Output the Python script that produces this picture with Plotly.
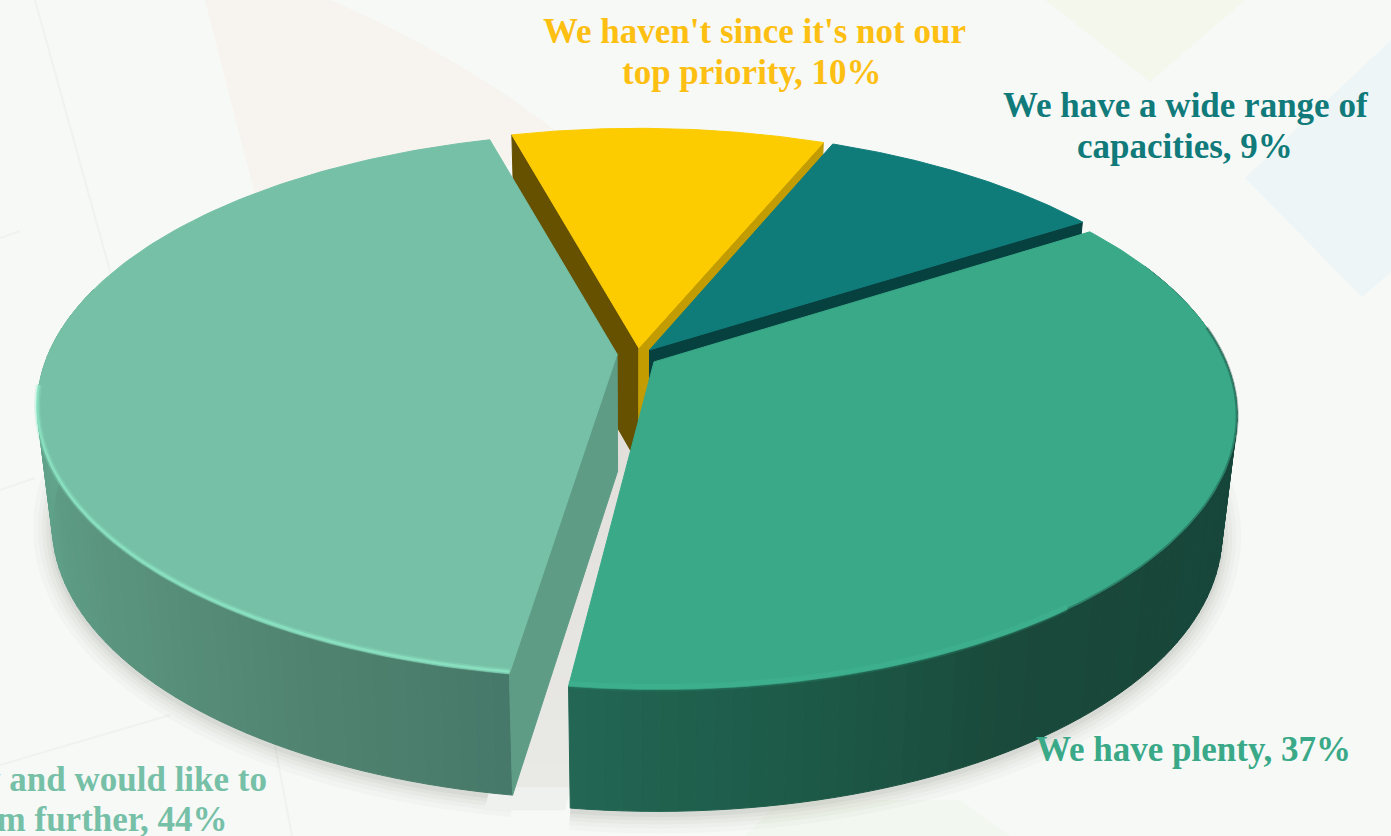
import numpy as np
import plotly.graph_objects as go

# Survey shares, clockwise from the top of the pie
categories = [
    "We haven't since it's not our top priority",
    "We have a wide range of capacities",
    "We have plenty",
    "We have capacity and would like to explore them further",
]
values = [10, 9, 37, 44]
top_colors = ["#fccc00", "#0f7c7a", "#3aa988", "#76c0a7"]
label_colors = ["#fdbf12", "#107b7a", "#3aa988", "#76c0a7"]

# View of the tilted disc
CX, CY = 637, 357
WIDTH, TILT = 570, 264
PERSPECTIVE = 0.188
THICKNESS = 117
EXPLODE = 0.035
FIRST_ANGLE = -13
PAGE = "#f7f9f7"


def project(x, y, depth=0.0):
    """Map disc coordinates (unit radius, y towards the back) to the page."""
    s = 1 / (1 + PERSPECTIVE * y)
    shrink = 1 - 0.025 * depth
    return (
        CX + x * WIDTH * s * shrink,
        CY - y * TILT * s * shrink + depth * THICKNESS * np.sqrt(s),
    )


def rim(theta_deg, offset, depth=0.0):
    t = np.radians(theta_deg)
    return project(np.sin(t) + offset[0], np.cos(t) + offset[1], depth)


def view_warp(theta):
    """Small angular correction of the foreshortened view."""
    return theta + np.interp(theta, [-15, 23, 55, 188, 347],
                             [-2.4, -0.5, 2.0, -1.3, -2.7])


def blend(stops, t):
    pos = [p for p, _ in stops]
    channels = [[int(c[i:i + 2], 16) for i in (1, 3, 5)] for _, c in stops]
    rgb = [np.interp(t, pos, [c[i] for c in channels]) for i in range(3)]
    return "rgb({:.0f},{:.0f},{:.0f})".format(*rgb)


fig = go.Figure()


def poly(xs, ys, color):
    fig.add_trace(go.Scatter(
        x=list(xs), y=list(ys), mode="lines", fill="toself", fillcolor=color,
        line=dict(color=color, width=1), hoverinfo="skip", showlegend=False,
    ))


def stroke(xs, ys, color, width):
    fig.add_trace(go.Scatter(
        x=list(xs), y=list(ys), mode="lines",
        line=dict(color=color, width=width, simplify=False),
        hoverinfo="skip", showlegend=False,
    ))


def outer_wall(a0, a1, offset, stops):
    """Curved side of a slice, shaded in narrow strips along the arc."""
    edges = np.arange(a0, a1 + 1.5, 1.5)
    edges[-1] = a1
    for p, q in zip(edges[:-1], edges[1:]):
        xt0, yt0 = rim(p, offset)
        xt1, yt1 = rim(q, offset)
        xb0, yb0 = rim(p, offset, 1)
        xb1, yb1 = rim(q, offset, 1)
        poly([xt0, xt1, xb1, xb0, xt0], [yt0, yt1, yb1, yb0, yt0],
             blend(stops, (p + q) / 2))


def cut_face(theta, offset, color):
    """Flat radial face of a slice, from the apex out to the rim."""
    ax, ay = project(*offset)
    bx, by = project(*offset, 1)
    tx, ty = rim(theta, offset)
    ux, uy = rim(theta, offset, 1)
    poly([ax, tx, ux, bx, ax], [ay, ty, uy, by, ay], color)


def top_face(a0, a1, offset, color):
    arc = np.linspace(a0, a1, 160)
    ax, ay = project(*offset)
    rx, ry = rim(arc, offset)
    poly(np.r_[ax, rx, ax], np.r_[ay, ry, ay], color)


# Slice sweep angles follow from the shares
sweeps = np.array(values) / sum(values) * 360
starts = FIRST_ANGLE + np.r_[0, np.cumsum(sweeps)[:-1]]
ends = starts + sweeps
offsets = []
for a, b in zip(starts, ends):
    mid = np.radians((a + b) / 2)
    offsets.append((EXPLODE * np.sin(mid), EXPLODE * np.cos(mid)))
starts, ends = view_warp(starts), view_warp(ends)
(ya0, ya1), (te0, te1) = (starts[0], ends[0]), (starts[1], ends[1])
(gr0, gr1), (li0, li1) = (starts[2], ends[2]), (starts[3], ends[3])
li0 += 1.2  # the pale slice's front edge sits a little further round
o_ya, o_te, o_gr = offsets[:3]
o_li = (offsets[3][0], offsets[3][1] + 0.012)

# Soft ground shadow under the two large slices
arc_g = np.linspace(gr0 + 20, gr1, 120)
arc_l = np.linspace(li0, li0 + 100, 120)
for w, a in [(38, 0.03), (28, 0.035), (20, 0.045), (12, 0.055), (5, 0.07)]:
    col = f"rgba(105,105,98,{a})"
    for arc, off in ((arc_g, o_gr), (arc_l, o_li)):
        sx, sy = rim(arc, off, 1)
        stroke(sx, np.asarray(sy) + 3, col, w)

# Shaded floor showing through the gap between the large slices
apx, apy = project(0, 0, 1)
tipx, tipy = rim(188, (0, 0), 1)
floor_y = np.linspace(apy - 45, tipy + 10, 18)
floor_stops = [(0, "#e2dfda"), (0.75, "#e7e7e4"), (0.92, "#e9e9e6"), (1, "#f3f5f2")]
for y0, y1 in zip(floor_y[:-1], floor_y[1:]):
    f0 = (y0 - floor_y[0]) / (floor_y[-1] - floor_y[0])
    f1 = (y1 - floor_y[0]) / (floor_y[-1] - floor_y[0])
    x0 = apx + (tipx - apx) * (y0 - floor_y[0]) / (tipy - floor_y[0])
    x1 = apx + (tipx - apx) * (y1 - floor_y[0]) / (tipy - floor_y[0])
    poly([x0 - 55, x0 + 25, x1 + 25, x1 - 55], [y0, y0, y1, y1],
         blend(floor_stops, (f0 + f1) / 2))

# Yellow and teal slices sit at the back
cut_face(ya0, o_ya, "#655100")
cut_face(ya1, o_ya, "#c29c00")
top_face(ya0, ya1, o_ya, top_colors[0])
cut_face(te1, o_te, "#06403f")
top_face(te0, te1, o_te, top_colors[1])

# Large green slice
green_stops = [(gr0, "#17463a"), (120, "#17463a"), (150, "#1a4a3b"),
               (168, "#1d5a48"), (gr1, "#226653")]
outer_wall(gr0 + 10, gr1, o_gr, green_stops)
top_face(gr0, gr1, o_gr, top_colors[2])
fx, fy = rim(np.linspace(gr0 + 25, gr0 + 85, 100), o_gr)
stroke(fx, fy, "rgba(23,70,58,0.4)", 3)
fx, fy = rim(np.linspace(gr0 + 85, gr1, 120), o_gr)
stroke(fx, np.asarray(fy) + 1, "rgba(38,120,96,0.45)", 2)
stroke(fx, np.asarray(fy) - 3, "rgba(70,190,150,0.3)", 5)

# Pale green slice sits in front on the left
pale_stops = [(li0, "#47796a"), (205, "#4f836f"), (225, "#58907b"),
              (250, "#5f9e87"), (275, "#62a78f"), (li1, "#62a78f")]
outer_wall(li0, 285, o_li, pale_stops)
cut_face(li0, o_li, "#5e9c86")
top_face(li0, li1, o_li, top_colors[3])
hx, hy = rim(np.linspace(li0, 263, 140), o_li)
stroke(hx, np.asarray(hy) - 2, "rgba(143,232,200,0.3)", 6)
stroke(hx, np.asarray(hy) - 2, "rgba(143,232,200,0.7)", 2.5)

# Slice labels, coloured like their slices, one annotation per line
FONT = "Liberation Serif"
notes = [
    (754, 31, "We haven't since it's not our", "center", label_colors[0]),
    (752, 72, "top priority, 10%", "center", label_colors[0]),
    (1185, 105, "We have a wide range of", "center", label_colors[1]),
    (1185, 146, "capacities, 9%", "center", label_colors[1]),
    (1193, 749, "We have plenty, 37%", "center", label_colors[2]),
    (269, 779, "We have capacity and would like to", "right", label_colors[3]),
    (230, 819, "explore them further, 44%", "right", label_colors[3]),
]
for x, y, text, anchor, color in notes:
    fig.add_annotation(
        x=x, y=y, text=f"<b>{text}</b>", showarrow=False, xref="x", yref="y",
        xanchor=anchor, yanchor="middle", align="center",
        font=dict(family=FONT, size=35, color=color),
    )

# Faint backdrop geometry behind the chart
backdrop = [
    ("M205,0 L330,0 Q470,60 580,150 L262,222 Z", "#f7f3ee"),
    ("M1045,0 L1245,0 L1150,82 Z", "#f3f7ec"),
    ("M1391,40 L1245,178 L1362,297 L1391,272 Z", "#edf5f7"),
    ("M745,836 L780,800 L960,800 L1010,836 Z", "#f2f7ef"),
]
shapes = [dict(type="path", path=p, fillcolor=c, line=dict(width=0),
               layer="below", xref="x", yref="y") for p, c in backdrop]
for x0, y0, x1, y1 in [(35, 0, 118, 300), (0, 238, 20, 231), (0, 490, 35, 478),
                       (0, 765, 170, 715), (272, 730, 292, 836)]:
    shapes.append(dict(type="line", x0=x0, y0=y0, x1=x1, y1=y1, layer="below",
                       line=dict(color="#f1f2f0", width=2), xref="x", yref="y"))

fig.update_layout(
    width=1391, height=836, margin=dict(l=0, r=0, t=0, b=0),
    paper_bgcolor=PAGE, plot_bgcolor=PAGE, showlegend=False, shapes=shapes,
    xaxis=dict(range=[0, 1391], visible=False, fixedrange=True),
    yaxis=dict(range=[836, 0], visible=False, fixedrange=True),
)
fig.write_html("out.html", config=dict(displayModeBar=False))
